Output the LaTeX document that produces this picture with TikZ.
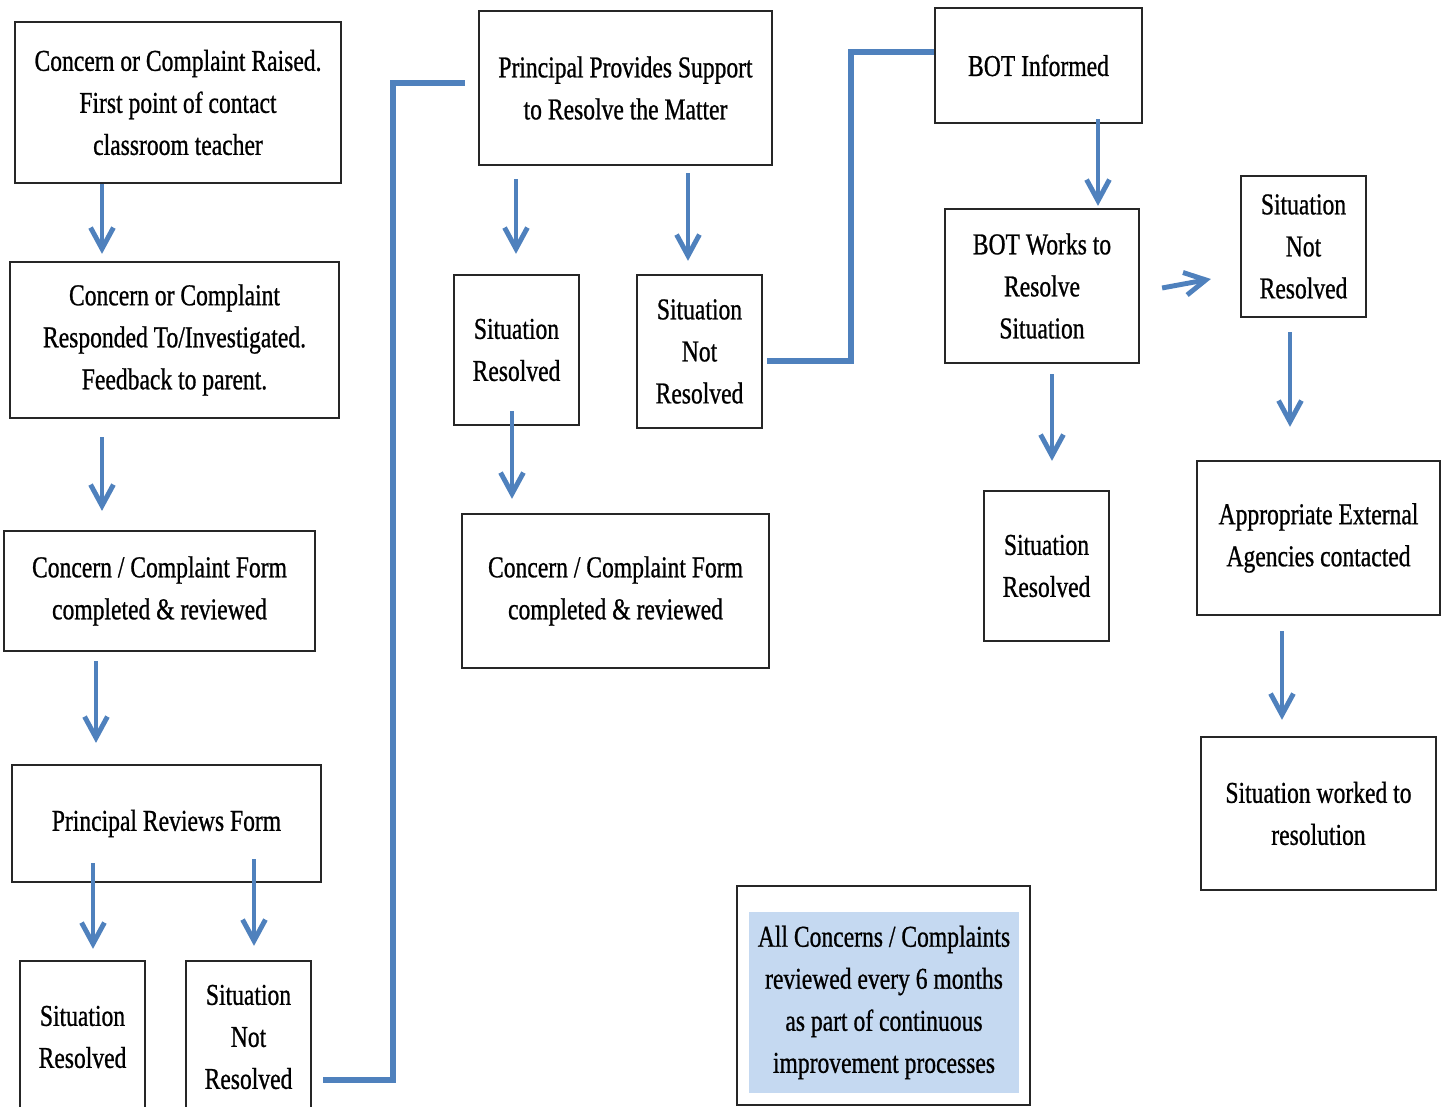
\documentclass[tikz,border=0pt]{standalone}
\usepackage{fontspec}
\setmainfont{Liberation Serif}[FakeStretch=0.78, FakeBold=0.8]
\usetikzlibrary{arrows.meta, positioning, calc}
\definecolor{flowblue}{RGB}{79,129,189}
\definecolor{notefill}{RGB}{197,217,241}

\begin{document}
\begin{tikzpicture}[x=0.01cm, y=-0.01cm, font=\fontsize{8.6}{11.95}\selectfont]
    \tikzstyle{box}=[draw=black!85, line width=0.6pt, rectangle, align=center, inner sep=2pt]
    \tikzstyle{flow}=[draw=flowblue, line width=1.4pt, -{Straight Barb[length=6pt, width=6.5pt, line width=1.4pt]}]
    \tikzstyle{link}=[draw=flowblue, line width=1.5pt, line cap=butt]

    \useasboundingbox (0,0) rectangle (1447,1107);

    % left column
    \node[box, minimum width=3.26cm, minimum height=1.61cm] (A1) at (178,102.5) {Concern or Complaint Raised.\\First point of contact\\classroom teacher};
    \node[box, minimum width=3.29cm, minimum height=1.56cm] (A2) at (174.5,340) {Concern or Complaint\\Responded To/Investigated.\\Feedback to parent.};
    \node[box, minimum width=3.11cm, minimum height=1.20cm] (A3) at (159.5,591) {Concern / Complaint Form\\completed \& reviewed};
    \node[box, minimum width=3.09cm, minimum height=1.17cm] (A4) at (166.5,823.5) {Principal Reviews Form};
    \node[box, minimum width=1.25cm, minimum height=1.52cm] (A5) at (82.5,1037) {Situation\\Resolved};
    \node[box, minimum width=1.25cm, minimum height=1.52cm] (A6) at (248.5,1037) {Situation\\Not\\Resolved};

    % principal
    \node[box, minimum width=2.93cm, minimum height=1.54cm] (B1) at (625.5,88) {Principal Provides Support\\to Resolve the Matter};
    \node[box, minimum width=1.25cm, minimum height=1.50cm] (B2) at (516.5,350) {Situation\\Resolved};
    \node[box, minimum width=1.25cm, minimum height=1.53cm] (B3) at (699.5,351.5) {Situation\\Not\\Resolved};
    \node[box, minimum width=3.07cm, minimum height=1.54cm] (B4) at (615.5,591) {Concern / Complaint Form\\completed \& reviewed};

    % BOT
    \node[box, minimum width=2.07cm, minimum height=1.15cm] (C1) at (1038.5,65.5) {BOT Informed};
    \node[box, minimum width=1.94cm, minimum height=1.54cm] (C2) at (1042,286) {BOT Works to\\Resolve\\Situation};
    \node[box, minimum width=1.25cm, minimum height=1.50cm] (C3) at (1046.5,566) {Situation\\Resolved};

    % external
    \node[box, minimum width=1.25cm, minimum height=1.41cm] (D1) at (1303.5,246.5) {Situation\\Not\\Resolved};
    \node[box, minimum width=2.43cm, minimum height=1.54cm] (D2) at (1318.5,538) {Appropriate External\\Agencies contacted};
    \node[box, minimum width=2.35cm, minimum height=1.53cm] (D3) at (1318.5,813.5) {Situation worked to\\resolution};

    % review note
    \node[box, minimum width=2.93cm, minimum height=2.19cm] (Eframe) at (883.5,995.5) {};
    \node[fill=notefill, align=center, minimum width=2.70cm, minimum height=1.81cm, inner sep=1pt] (E) at (884,1002.5) {All Concerns / Complaints\\reviewed every 6 months\\as part of continuous\\improvement processes};

    % arrows: source/target/x/start gap/end gap
    \foreach \s/\t/\x/\a/\b in {A1/A2/102/0/.07, A2/A3/102/.18/.19, A3/A4/96/.09/.21,
        A4/A5/93/-.20/.11, A4/A6/254/-.24/.14, B1/B2/516/.13/.20, B1/B3/688/.07/.13,
        B2/B4/512/-.15/.14, C1/C2/1098/-.05/.02, C2/C3/1052/.10/.29,
        D1/D2/1290/.14/.33, D2/D3/1282/.15/.16}
        \draw[flow, shorten <=\a cm, shorten >=\b cm] (\s.south -| \x,0) -- (\t.north -| \x,0);

    \draw[flow] ($(C2.east)+(22,2)$) -- ($(D1.west)+(-29,32.5)$);

    % escalation lines
    \draw[link, shorten <=0.11cm, shorten >=0.13cm] (A6.east |- 0,1080) -| (393,83) -- (B1.west |- 0,83);
    \draw[link, shorten <=0.04cm] (B3.east |- 0,361) -| (851,52) -- (C1.west |- 0,52);
\end{tikzpicture}
\end{document}
